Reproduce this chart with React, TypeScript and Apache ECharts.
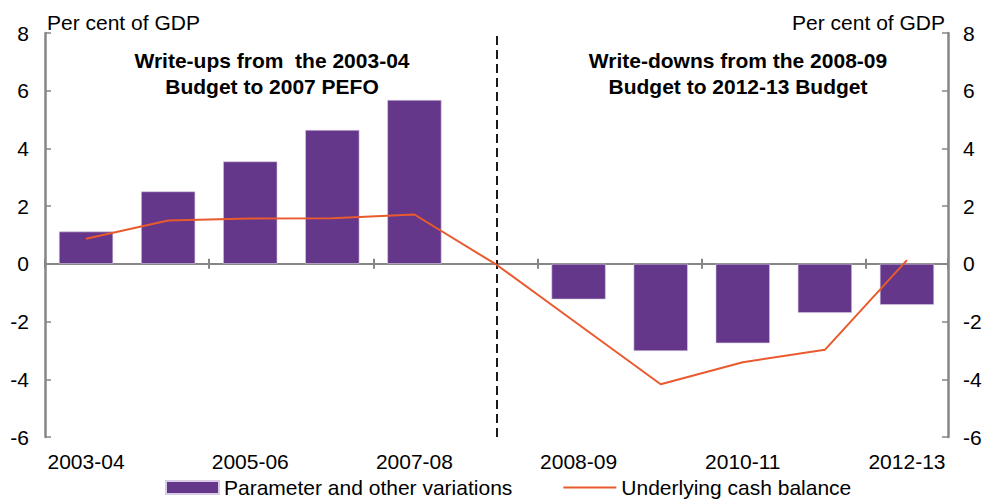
import React, { useEffect, useRef } from "react";
import * as echarts from "echarts";

const categories = ["2003-04", "2004-05", "2005-06", "2006-07", "2007-08", "", "2008-09", "2009-10", "2010-11", "2011-12", "2012-13"];
const paramVariations = [1.12, 2.51, 3.55, 4.64, 5.68, null, -1.23, -3.02, -2.75, -1.7, -1.42];
const cashBalance = [0.87, 1.5, 1.57, 1.58, 1.71, -0.03, -2.1, -4.17, -3.41, -2.98, 0.13];
const yTicks = { min: -6, max: 8, interval: 2 };
const axisName = "Per cent of GDP";
const seriesNames = ["Parameter and other variations", "Underlying cash balance"];
const noteLeft = "Write-ups from  the 2003-04\nBudget to 2007 PEFO";
const noteRight = "Write-downs from the 2008-09\nBudget to 2012-13 Budget";

const FONT = "'Liberation Sans', Arial, sans-serif";
const AXIS_GREY = "#868686";
const PURPLE = "#65378A";
const ORANGE = "#E95A2E";

export default function App() {
  const ref = useRef<HTMLDivElement>(null);
  useEffect(() => {
    if (!ref.current) return;
    const chart = echarts.init(ref.current, undefined, { renderer: "svg" });
    const baseX = {
      type: "category" as const,
      data: categories,
      boundaryGap: true,
      position: "bottom" as const,
      axisLabel: { show: false },
      splitLine: { show: false },
    };
    chart.setOption({
      animation: false,
      textStyle: { fontFamily: FONT },
      grid: { left: 45, right: 40, top: 33, bottom: 63, containLabel: false },
      legend: {
        left: 160,
        top: 472,
        itemWidth: 53,
        itemHeight: 13,
        itemGap: 50,
        textStyle: { fontSize: 21, color: "#000", fontFamily: FONT },
        data: [
          { name: seriesNames[0], icon: "rect" },
          { name: seriesNames[1], itemStyle: { opacity: 0 } },
        ],
      },
      xAxis: [
        {
          ...baseX,
          axisLine: { show: true, onZero: true, lineStyle: { color: AXIS_GREY, width: 2 } },
          axisTick: { show: true, interval: 1, inside: true, length: 5, lineStyle: { color: AXIS_GREY, width: 2 } },
        },
        {
          ...baseX,
          axisLine: { show: false, onZero: true, lineStyle: { color: AXIS_GREY, width: 2 } },
          axisTick: { show: true, interval: 1, inside: false, length: 5, lineStyle: { color: AXIS_GREY, width: 2 } },
        },
        {
          ...baseX,
          axisLine: { show: false, onZero: false },
          axisTick: { show: false },
          axisLabel: { show: true, interval: 1, fontSize: 21, color: "#000", margin: 14, fontFamily: FONT },
        },
      ],
      yAxis: [
        {
          type: "value",
          position: "left",
          ...yTicks,
          name: axisName,
          nameLocation: "end",
          nameGap: 11,
          nameTextStyle: { fontSize: 21, color: "#000", align: "left", verticalAlign: "middle", padding: [0, 0, 0, 2], fontFamily: FONT },
          axisLine: { show: true, lineStyle: { color: AXIS_GREY, width: 2.5 } },
          axisTick: { show: true, inside: true, length: 6, lineStyle: { color: AXIS_GREY, width: 1.5 } },
          axisLabel: { fontSize: 21, color: "#000", margin: 16, fontFamily: FONT },
          splitLine: { show: false },
        },
        {
          type: "value",
          position: "right",
          ...yTicks,
          name: axisName,
          nameLocation: "end",
          nameGap: 11,
          nameTextStyle: { fontSize: 21, color: "#000", align: "right", verticalAlign: "middle", padding: [0, 3, 0, 0], fontFamily: FONT },
          axisLine: { show: true, lineStyle: { color: AXIS_GREY, width: 2.5 } },
          axisTick: { show: true, inside: true, length: 6, lineStyle: { color: AXIS_GREY, width: 1.5 } },
          axisLabel: { fontSize: 21, color: "#000", margin: 15, fontFamily: FONT },
          splitLine: { show: false },
        },
      ],
      series: [
        {
          name: seriesNames[0],
          type: "bar",
          xAxisIndex: 0,
          yAxisIndex: 0,
          data: paramVariations.map((v) => (v === null ? "-" : v)),
          barCategoryGap: "34%",
          itemStyle: { color: PURPLE, borderColor: "#d9cce6", borderWidth: 0.6 },
          markLine: {
            silent: true,
            symbol: "none",
            label: { show: false },
            lineStyle: { color: "#1a1a1a", type: [9, 5], width: 2 },
            data: [{ xAxis: 5 }],
          },
        },
        {
          name: seriesNames[1],
          type: "line",
          xAxisIndex: 0,
          yAxisIndex: 0,
          data: cashBalance,
          symbol: "none",
          lineStyle: { color: ORANGE, width: 2 },
          itemStyle: { color: ORANGE },
          z: 5,
        },
      ],
      graphic: [
        {
          type: "text",
          x: 272,
          y: 47,
          style: {
            text: noteLeft,
            fontSize: 21,
            fontWeight: "bold",
            fontFamily: FONT,
            fill: "#000",
            align: "center",
            verticalAlign: "top",
            lineHeight: 26,
          },
        },
        {
          type: "text",
          x: 738,
          y: 47,
          style: {
            text: noteRight,
            fontSize: 21,
            fontWeight: "bold",
            fontFamily: FONT,
            fill: "#000",
            align: "center",
            verticalAlign: "top",
            lineHeight: 26,
          },
        },
      ],
    });
    return () => chart.dispose();
  }, []);
  return <div ref={ref} style={{ width: 988, height: 500, position: "absolute", left: 0, top: 0 }} />;
}
